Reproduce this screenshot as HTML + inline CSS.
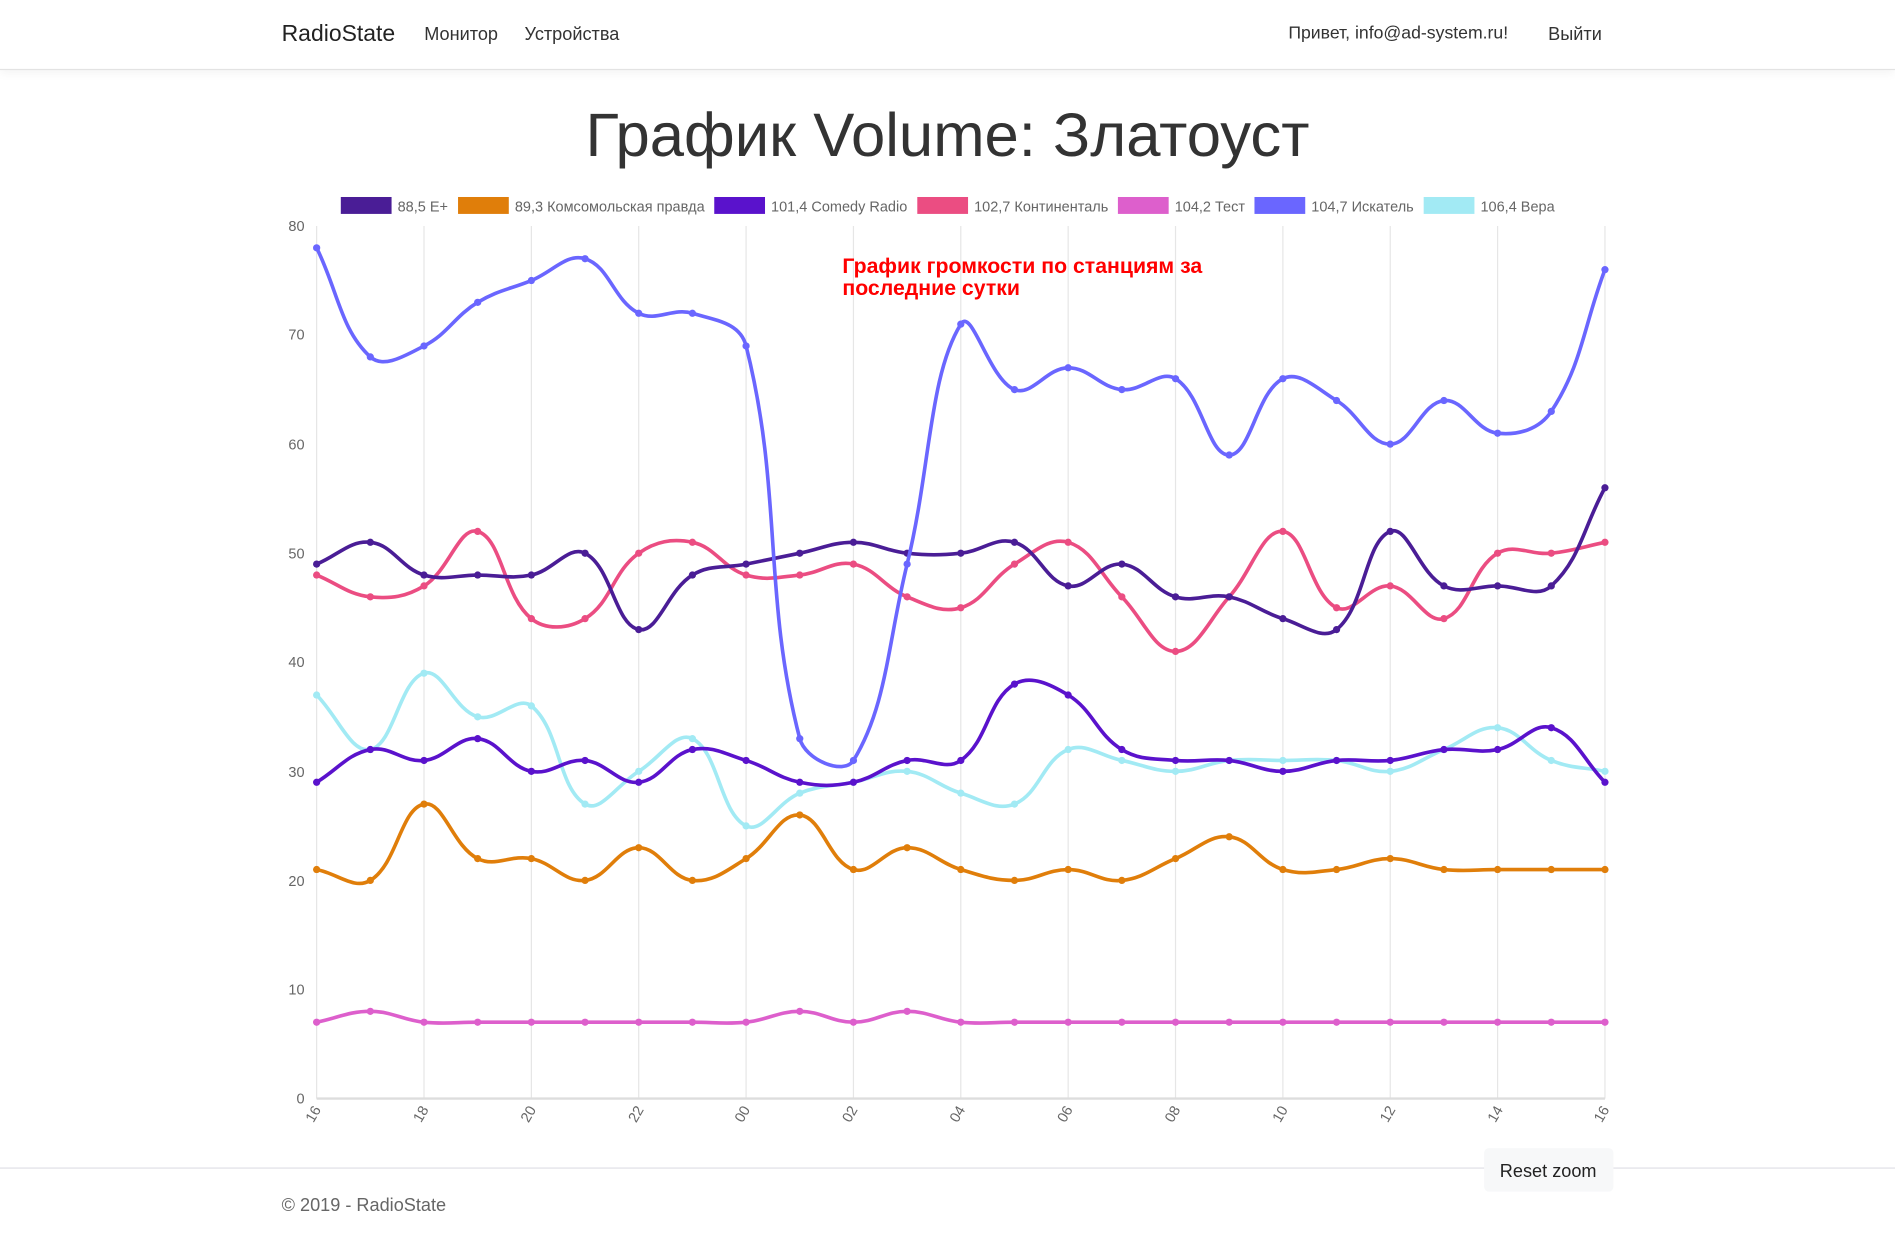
<!DOCTYPE html>
<html><head><meta charset="utf-8"><style>
html,body{margin:0;padding:0;width:1895px;height:1241px;overflow:hidden;background:#fff}
#w{position:absolute;left:0;top:0;width:1568px;height:1027px;transform:scale(1.20855);transform-origin:0 0;font-family:"Liberation Sans","DejaVu Sans",sans-serif}
.nav{position:absolute;left:0;top:0;width:1568px;height:57px;border-bottom:1px solid #e3e3e3;box-shadow:0 3px 8px rgba(0,0,0,0.05)}
.t{position:absolute;white-space:nowrap}
</style></head><body><div id="w">
<div class="nav"></div>
<div class="t" style="left:233px;top:18px;font-size:19px;color:#222">RadioState</div>
<div class="t" style="left:351px;top:20px;font-size:15px;color:#333">Монитор</div>
<div class="t" style="left:434px;top:20px;font-size:15px;color:#333">Устройства</div>
<div class="t" style="left:1066px;top:20px;font-size:14.6px;color:#333">Привет, info@ad-system.ru!</div>
<div class="t" style="left:1281px;top:20px;font-size:15px;color:#333">Выйти</div>
<div class="t" style="left:0;width:1568px;text-align:center;top:82px;font-size:51px;font-weight:300;color:#333">График Volume: Златоуст</div>
<svg id="c" style="position:absolute;left:0;top:0" width="1568" height="1027" font-family="Liberation Sans, DejaVu Sans, sans-serif">
<g id="grid" stroke="#e6e6e6" stroke-width="1"></g>
<line x1="262" y1="909" x2="1328" y2="909" stroke="#ddd" stroke-width="2"/>
<g font-size="12" fill="#666" text-anchor="end">
<text x="252" y="191">80</text><text x="252" y="281">70</text><text x="252" y="372">60</text><text x="252" y="462">50</text><text x="252" y="552">40</text><text x="252" y="643">30</text><text x="252" y="733">20</text><text x="252" y="823">10</text><text x="252" y="913">0</text>
</g>
<g font-size="12" fill="#666" text-anchor="end">
<text transform="translate(266,918) rotate(-60)">16</text>
<text transform="translate(355,918) rotate(-60)">18</text>
<text transform="translate(444,918) rotate(-60)">20</text>
<text transform="translate(533,918) rotate(-60)">22</text>
<text transform="translate(621,918) rotate(-60)">00</text>
<text transform="translate(710,918) rotate(-60)">02</text>
<text transform="translate(799,918) rotate(-60)">04</text>
<text transform="translate(888,918) rotate(-60)">06</text>
<text transform="translate(977,918) rotate(-60)">08</text>
<text transform="translate(1066,918) rotate(-60)">10</text>
<text transform="translate(1155,918) rotate(-60)">12</text>
<text transform="translate(1244,918) rotate(-60)">14</text>
<text transform="translate(1332,918) rotate(-60)">16</text>
</g>
<g font-size="12" fill="#666">
<rect x="282" y="163" width="42" height="14" fill="#4a1d96"/><text x="329" y="175">88,5 E+</text>
<rect x="379" y="163" width="42" height="14" fill="#e07e0a"/><text x="426" y="175">89,3 Комсомольская правда</text>
<rect x="591" y="163" width="42" height="14" fill="#5a12cc"/><text x="638" y="175">101,4 Comedy Radio</text>
<rect x="759" y="163" width="42" height="14" fill="#eb4d82"/><text x="806" y="175">102,7 Континенталь</text>
<rect x="925" y="163" width="42" height="14" fill="#dd5fcc"/><text x="972" y="175">104,2 Тест</text>
<rect x="1038" y="163" width="42" height="14" fill="#6a66ff"/><text x="1085" y="175">104,7 Искатель</text>
<rect x="1178" y="163" width="42" height="14" fill="#a2eaf4"/><text x="1225" y="175">106,4 Вера</text>
</g>
<g id="series"></g>
<g font-size="17.6" font-weight="bold" fill="#ff0000">
<text x="697" y="226">График громкости по станциям за</text>
<text x="697" y="244">последние сутки</text>
</g>
</svg>
<div style="position:absolute;left:0;top:966px;width:1568px;border-top:1px solid #e0e0e6"></div>
<div class="t" style="left:233px;top:989px;font-size:15px;color:#666">© 2019 - RadioState</div>
<div style="position:absolute;left:1228px;top:950px;width:107px;height:36px;background:#f7f8f9;border-radius:4px"></div>
<div class="t" style="left:1241px;top:961px;font-size:15px;color:#222">Reset zoom</div>
</div>
<script>
var L=262,R=1328,T=187,B=909,n=25,dx=(R-L)/24;
var g=document.getElementById('grid'),s='';
for(var i=0;i<=24;i+=2){var x=L+i*dx;s+='<line x1="'+x+'" y1="187" x2="'+x+'" y2="909"/>';}
g.innerHTML=s;
var D=[
["#a2eaf4",[37,32,39,35,36,27,30,33,25,28,29,30,28,27,32,31,30,31,31,31,30,32,34,31,30]],
["#dd5fcc",[7,8,7,7,7,7,7,7,7,8,7,8,7,7,7,7,7,7,7,7,7,7,7,7,7]],
["#e07e0a",[21,20,27,22,22,20,23,20,22,26,21,23,21,20,21,20,22,24,21,21,22,21,21,21,21]],
["#5a12cc",[29,32,31,33,30,31,29,32,31,29,29,31,31,38,37,32,31,31,30,31,31,32,32,34,29]],
["#eb4d82",[48,46,47,52,44,44,50,51,48,48,49,46,45,49,51,46,41,46,52,45,47,44,50,50,51]],
["#4a1d96",[49,51,48,48,48,50,43,48,49,50,51,50,50,51,47,49,46,46,44,43,52,47,47,47,56]],
["#6a66ff",[78,68,69,73,75,77,72,72,69,33,31,49,71,65,67,65,66,59,66,64,60,64,61,63,76]]
];
var out='';
D.forEach(function(d){
 var p=d[1].map(function(v,i){return [L+i*dx,B-(v/80)*(B-T)];});
 var cp=p.map(function(c,i){
  var pr=p[Math.max(0,i-1)],nx=p[Math.min(n-1,i+1)],t=0.4;
  var d01=Math.hypot(c[0]-pr[0],c[1]-pr[1]),d12=Math.hypot(nx[0]-c[0],nx[1]-c[1]);
  var s01=d01/(d01+d12||1),s12=d12/(d01+d12||1);
  var fa=t*s01,fb=t*s12;
  return [[c[0]-fa*(nx[0]-pr[0]),c[1]-fa*(nx[1]-pr[1])],[c[0]+fb*(nx[0]-pr[0]),c[1]+fb*(nx[1]-pr[1])]];
 });
 var path='M'+p[0][0]+','+p[0][1];
 for(var i=1;i<n;i++){path+=' C'+cp[i-1][1][0]+','+cp[i-1][1][1]+' '+cp[i][0][0]+','+cp[i][0][1]+' '+p[i][0]+','+p[i][1];}
 out+='<path d="'+path+'" fill="none" stroke="'+d[0]+'" stroke-width="3"/>';
 p.forEach(function(q){out+='<circle cx="'+q[0]+'" cy="'+q[1]+'" r="3" fill="'+d[0]+'"/>';});
});
document.getElementById('series').innerHTML=out;
</script>
</body></html>
